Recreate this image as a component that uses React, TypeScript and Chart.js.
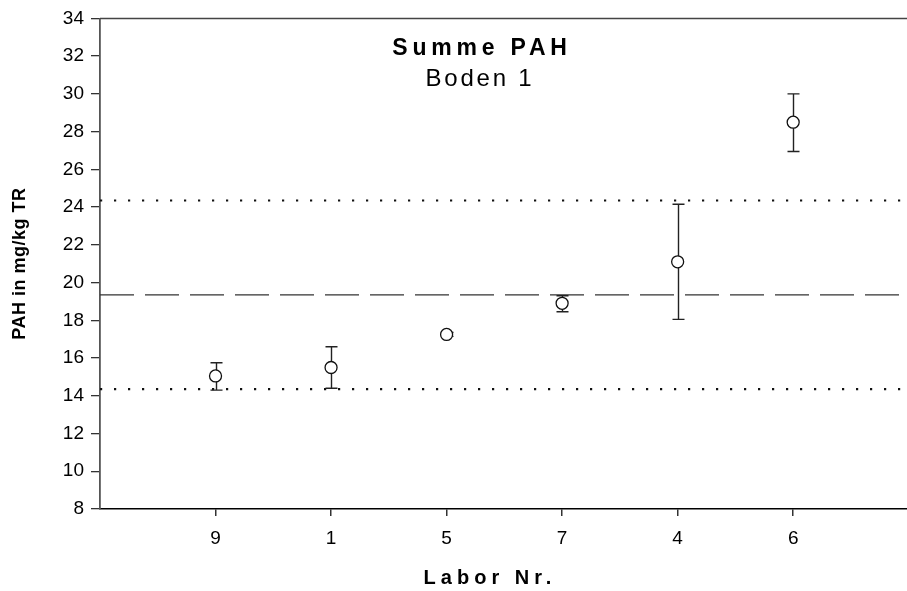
import React, { useEffect, useRef } from 'react';
import { Chart, registerables } from 'chart.js';

Chart.register(...registerables);

const FONT = '"Liberation Sans", Arial, Helvetica, sans-serif';

// Data
const categories = ['9', '1', '5', '7', '4', '6'];
const means = [15.05, 15.5, 17.25, 18.9, 21.1, 28.5];
const upperErr = [15.75, 16.6, 17.35, 19.3, 24.15, 30.0];
const lowerErr = [14.3, 14.4, 17.15, 18.45, 18.05, 26.95];
const meanLine = 19.35;
const upperLimit = 24.35;
const lowerLimit = 14.35;
const yMin = 8;
const yMax = 34;
const yStep = 2;

const titleMain = 'Summe PAH';
const titleSub = 'Boden 1';
const xTitle = 'Labor Nr.';
const yTitle = 'PAH in mg/kg TR';

export default function App() {
  const ref = useRef<HTMLCanvasElement>(null);

  useEffect(() => {
    const canvas = ref.current!;
    const xMin = 0;
    const xMax = categories.length + 1;

    const errorBars = {
      id: 'errorBars',
      beforeDatasetDraw(chart: any, args: any) {
        if (args.index !== 0) return;
        const ctx = chart.ctx;
        const xs = chart.scales.x;
        const ys = chart.scales.y;
        ctx.save();
        ctx.strokeStyle = '#222';
        ctx.lineWidth = 1.4;
        categories.forEach((_, i) => {
          const px = Math.round(xs.getPixelForValue(i + 1)) + 0.5;
          const top = ys.getPixelForValue(upperErr[i]);
          const bot = ys.getPixelForValue(lowerErr[i]);
          ctx.beginPath();
          ctx.moveTo(px, top);
          ctx.lineTo(px, bot);
          ctx.moveTo(px - 6, top);
          ctx.lineTo(px + 6, top);
          ctx.moveTo(px - 6, bot);
          ctx.lineTo(px + 6, bot);
          ctx.stroke();
        });
        ctx.restore();
      },
    };

    const frameAndText = {
      id: 'frameAndText',
      afterDraw(chart: any) {
        const ctx = chart.ctx;
        const a = chart.chartArea;
        ctx.save();
        ctx.strokeStyle = '#444';
        ctx.lineWidth = 1.5;
        ctx.beginPath();
        ctx.moveTo(a.left, a.top);
        ctx.lineTo(a.right, a.top);
        ctx.stroke();

        ctx.fillStyle = '#000';
        ctx.textAlign = 'center';
        ctx.textBaseline = 'middle';
        (ctx as any).letterSpacing = '4.8px';
        ctx.font = 'bold 23px ' + FONT;
        ctx.fillText(titleMain, 482, 49);
        (ctx as any).letterSpacing = '2.8px';
        ctx.font = '24px ' + FONT;
        ctx.fillText(titleSub, 480, 79);

        (ctx as any).letterSpacing = '5px';
        ctx.font = 'bold 20px ' + FONT;
        ctx.fillText(xTitle, 490, 578);

        (ctx as any).letterSpacing = '0.5px';
        ctx.translate(20, (a.top + a.bottom) / 2);
        ctx.rotate(-Math.PI / 2);
        ctx.font = 'bold 18px ' + FONT;
        ctx.fillText(yTitle, 0, 0);
        ctx.restore();
      },
    };

    const chart = new Chart(canvas, {
      type: 'scatter',
      data: {
        datasets: [
          {
            label: 'Labore',
            data: means.map((v, i) => ({ x: i + 1, y: v })),
            pointRadius: 6,
            pointBackgroundColor: '#fff',
            pointBorderColor: '#111',
            pointBorderWidth: 1.3,
            showLine: false,
          },
          {
            label: 'Mittelwert',
            type: 'line',
            data: [
              { x: xMin, y: meanLine },
              { x: xMax, y: meanLine },
            ],
            borderColor: '#333',
            borderWidth: 1.4,
            borderDash: [34, 11],
            pointRadius: 0,
            fill: false,
          },
          {
            label: 'Obergrenze',
            type: 'line',
            data: [
              { x: xMin, y: upperLimit },
              { x: xMax, y: upperLimit },
            ],
            borderColor: '#111',
            borderWidth: 2.2,
            borderDash: [2.2, 11.8],
            pointRadius: 0,
            fill: false,
          },
          {
            label: 'Untergrenze',
            type: 'line',
            data: [
              { x: xMin, y: lowerLimit },
              { x: xMax, y: lowerLimit },
            ],
            borderColor: '#111',
            borderWidth: 2.2,
            borderDash: [2.2, 11.8],
            pointRadius: 0,
            fill: false,
          },
        ],
      },
      options: {
        animation: false,
        responsive: false,
        devicePixelRatio: 1,
        layout: { padding: { top: 18, right: 0, left: 0, bottom: 0 } },
        plugins: {
          legend: { display: false },
          tooltip: { enabled: false },
          title: { display: false },
        },
        scales: {
          x: {
            type: 'linear',
            min: xMin,
            max: xMax,
            afterBuildTicks: (s: any) => {
              s.ticks = categories.map((_, i) => ({ value: i + 1 }));
            },
            afterFit: (s: any) => {
              s.height = 82;
            },
            ticks: {
              callback: (v: any) => categories[Number(v) - 1] ?? '',
              color: '#000',
              font: { family: FONT, size: 19 },
              padding: 11,
              maxRotation: 0,
              autoSkip: false,
            },
            grid: {
              drawOnChartArea: false,
              drawTicks: true,
              tickLength: 7,
              color: '#333',
              lineWidth: 1.5,
            },
            border: { display: true, color: '#000', width: 1.6 },
          },
          y: {
            type: 'linear',
            min: yMin,
            max: yMax,
            ticks: {
              stepSize: yStep,
              color: '#000',
              font: { family: FONT, size: 19 },
              padding: 7,
            },
            afterFit: (s: any) => {
              s.width = 100;
            },
            grid: {
              drawOnChartArea: false,
              drawTicks: true,
              tickLength: 9,
              color: '#333',
              lineWidth: 1.3,
            },
            border: { display: true, color: '#555', width: 1.8 },
          },
        },
      },
      plugins: [errorBars, frameAndText],
    });

    return () => chart.destroy();
  }, []);

  return (
    <div
      style={{
        position: 'fixed',
        left: 0,
        top: 0,
        width: 907,
        height: 591,
        overflow: 'hidden',
        background: '#fff',
      }}
    >
      <canvas ref={ref} width={916} height={591} style={{ width: 916, height: 591, display: 'block' }} />
    </div>
  );
}
